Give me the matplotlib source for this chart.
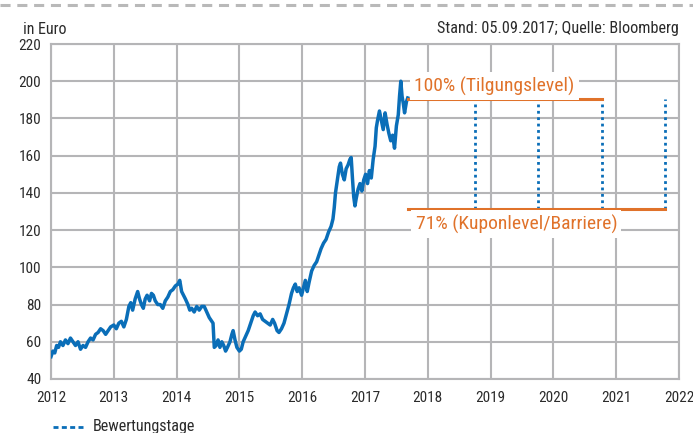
import matplotlib
matplotlib.use("Agg")
import matplotlib.pyplot as plt
from matplotlib.lines import Line2D
from matplotlib import font_manager

# schmale Schrift, falls vorhanden
installed = {f.name for f in font_manager.fontManager.ttflist}
narrow = [n for n in ['Liberation Sans Narrow', 'DejaVu Sans Condensed', 'Roboto Condensed',
                      'Open Sans Condensed', 'Noto Sans Condensed', 'Arial Narrow'] if n in installed]
plt.rcParams['font.family'] = narrow + ['DejaVu Sans']
if not narrow:
    plt.rcParams['font.stretch'] = 'condensed'

# Kursverlauf (Dezimaljahr, Kurs in Euro)
years = [2012.00, 2012.03, 2012.06, 2012.09, 2012.12, 2012.15, 2012.19, 2012.23, 2012.27, 2012.31,
         2012.35, 2012.39, 2012.43, 2012.47, 2012.51, 2012.55, 2012.59, 2012.63, 2012.67, 2012.71,
         2012.75, 2012.79, 2012.83, 2012.87, 2012.91, 2012.95, 2013.00, 2013.04, 2013.08, 2013.12,
         2013.16, 2013.20, 2013.24, 2013.27, 2013.30, 2013.34, 2013.38, 2013.41, 2013.44, 2013.47,
         2013.50, 2013.53, 2013.57, 2013.60, 2013.63, 2013.66, 2013.70, 2013.74, 2013.78, 2013.82,
         2013.86, 2013.90, 2013.94, 2013.98, 2014.02, 2014.05, 2014.08, 2014.11, 2014.14, 2014.18,
         2014.21, 2014.24, 2014.28, 2014.32, 2014.36, 2014.40, 2014.44, 2014.48, 2014.52, 2014.56,
         2014.58, 2014.60, 2014.63, 2014.66, 2014.69, 2014.72, 2014.75, 2014.78, 2014.81, 2014.85,
         2014.88, 2014.90, 2014.93, 2014.96, 2015.00, 2015.03, 2015.06, 2015.10, 2015.14, 2015.18,
         2015.22, 2015.25, 2015.29, 2015.33, 2015.37, 2015.41, 2015.45, 2015.49, 2015.53, 2015.56,
         2015.60, 2015.63, 2015.67, 2015.71, 2015.75, 2015.79, 2015.83, 2015.86, 2015.89, 2015.92,
         2015.95, 2015.99, 2016.02, 2016.05, 2016.08, 2016.11, 2016.15, 2016.19, 2016.23, 2016.26,
         2016.30, 2016.34, 2016.38, 2016.42, 2016.46, 2016.49, 2016.51, 2016.53, 2016.56, 2016.59,
         2016.61, 2016.64, 2016.67, 2016.70, 2016.73, 2016.76, 2016.78, 2016.80, 2016.82, 2016.84,
         2016.86, 2016.89, 2016.92, 2016.95, 2016.98, 2017.01, 2017.04, 2017.07, 2017.10, 2017.13,
         2017.16, 2017.18, 2017.20, 2017.23, 2017.26, 2017.29, 2017.32, 2017.35, 2017.38, 2017.41,
         2017.44, 2017.47, 2017.50, 2017.53, 2017.55, 2017.57, 2017.59, 2017.61, 2017.63, 2017.66,
         2017.68]
prices = [52, 55, 54, 58, 57, 60, 58, 61, 59, 62,
          60, 58, 60, 56, 58, 57, 60, 62, 61, 64,
          65, 67, 66, 64, 66, 68, 69, 67, 70, 71,
          68, 72, 79, 81, 77, 83, 87, 83, 80, 78,
          83, 85, 82, 86, 85, 82, 80, 80, 78, 82,
          84, 87, 88, 90, 91, 93, 87, 85, 83, 80,
          77, 78, 76, 79, 77, 79, 79, 76, 73, 71,
          70, 57, 58, 61, 57, 60, 58, 55, 57, 60,
          64, 66, 61, 57, 55, 56, 60, 63, 66, 70,
          74, 76, 74, 75, 72, 71, 70, 69, 72, 70,
          66, 65, 67, 70, 75, 80, 86, 89, 91, 87,
          89, 85, 89, 93, 87, 92, 98, 101, 103, 106,
          110, 113, 115, 119, 122, 126, 132, 140, 147, 154,
          156, 150, 147, 153, 155, 158, 159, 148, 138, 133,
          137, 142, 145, 141, 147, 150, 145, 152, 148, 158,
          165, 175, 179, 184, 179, 174, 183, 177, 172, 168,
          171, 164, 176, 182, 192, 200, 192, 188, 183, 189,
          191]

# Produktdaten
start_year = 2017.68
level_redemption = 190.5
level_barrier = 131.5
obs_dates = [2018.75, 2019.76, 2020.77, 2021.78]
label_redemption = "100% (Tilgungslevel)"
label_barrier = "71% (Kuponlevel/Barriere)"

blue = '#0A6EB8'
orange = '#E0722A'
grid_col = '#B5B5B7'
text_col = '#2b2b2b'

fig = plt.figure(figsize=(6.93, 4.33), dpi=100)
ax = fig.add_axes([51 / 693, 1 - 379 / 433, 628 / 693, 335 / 433])

ax.set_xlim(2012, 2022)
ax.set_ylim(40, 220)
ax.set_xticks(range(2012, 2023))
ax.set_yticks(range(40, 221, 20))
ax.grid(True, color=grid_col, linewidth=1.5)
ax.set_axisbelow(True)
for s in ax.spines.values():
    s.set_color(grid_col)
    s.set_linewidth(1.5)
ax.tick_params(length=0, labelsize=11, colors=text_col)
ax.tick_params(axis='y', pad=7)
ax.tick_params(axis='x', pad=9)

ax.plot(years, prices, color=blue, linewidth=2.5, zorder=3)

# Barriere- und Tilgungslevel
ax.plot([start_year, obs_dates[-2]], [level_redemption, level_redemption], color=orange, lw=2.2, zorder=4)
ax.plot([start_year, obs_dates[-1]], [level_barrier, level_barrier], color=orange, lw=2.2, zorder=4)

for d in obs_dates:
    ax.plot([d, d], [level_barrier, level_redemption], color=blue, lw=2,
            linestyle=(0, (1, 1.3)), zorder=3)

ax.text(2019.06, 197.4, label_redemption, color=orange, fontsize=14, ha='center', va='center',
        zorder=5, bbox=dict(facecolor='white', edgecolor='none', pad=3))
ax.text(2019.41, 123.3, label_barrier, color=orange, fontsize=14, ha='center', va='center',
        zorder=5, bbox=dict(facecolor='white', edgecolor='none', pad=3))

# Kopfzeile
fig.add_artist(Line2D([0, 1], [1 - 5 / 433, 1 - 5 / 433], color='#B9B9B9', lw=2.2,
                      linestyle=(0, (3.3, 2.2))))
fig.text(23 / 693, 1 - 29 / 433, "in Euro", fontsize=11.5, color=text_col, va='center')
fig.text(679 / 693, 1 - 29 / 433, "Stand: 05.09.2017; Quelle: Bloomberg", fontsize=11.7,
         color=text_col, va='center', ha='right')

# Legende
fig.add_artist(Line2D([53 / 693, 86 / 693], [1 - 427 / 433, 1 - 427 / 433], color=blue, lw=2,
                      linestyle=(0, (1.8, 1.2))))
fig.text(93 / 693, 1 - 426 / 433, "Bewertungstage", fontsize=11.6, color=text_col, va='center')

fig.savefig("out.png", dpi=100)
